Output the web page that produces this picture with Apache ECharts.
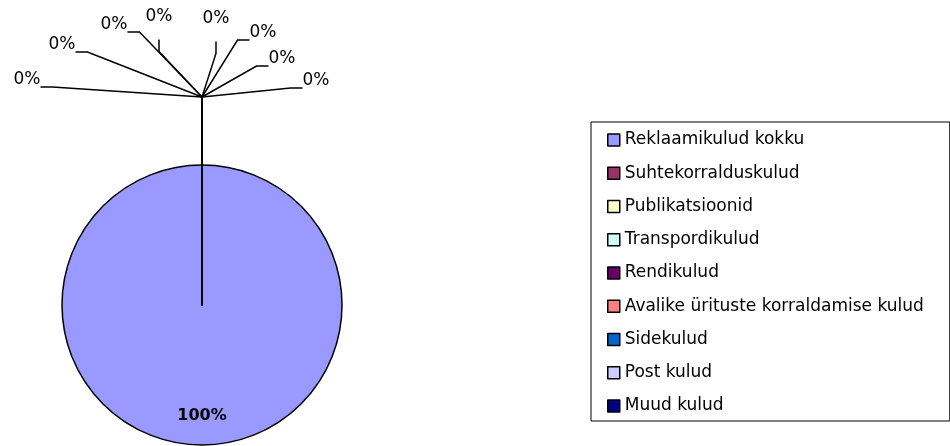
<!DOCTYPE html>
<html>
<head>
<meta charset="utf-8">
<script src="https://cdn.jsdelivr.net/npm/echarts@6/dist/echarts.min.js"></script>
<style>
  html, body { margin: 0; padding: 0; background: #fff; }
  #chart { width: 950px; height: 446px; }
</style>
</head>
<body>
<div id="chart"></div>
<script>
// kulude jaotus
var categories = [
  'Reklaamikulud kokku',
  'Suhtekorralduskulud',
  'Publikatsioonid',
  'Transpordikulud',
  'Rendikulud',
  'Avalike ürituste korraldamise kulud',
  'Sidekulud',
  'Post kulud',
  'Muud kulud'
];
var values = [100, 0, 0, 0, 0, 0, 0, 0, 0];
var colors = ['#9999FF', '#993366', '#FFFFCC', '#CCFFFF', '#660066', '#FF8080', '#0066CC', '#CCCCFF', '#000080'];

// 0% siltide asukohad (kasitsi paigutatud nagu Excelis)
var labelSpots = [
  [316, 88], [282, 66], [263, 40], [216, 26],
  [159, 24], [114, 32], [62, 52], [27, 87]
];

var chart = echarts.init(document.getElementById('chart'), null, { renderer: 'canvas' });

var bigData = [];
var zeroData = [];
for (var i = 0; i < categories.length; i++) {
  var item = { name: categories[i], value: values[i], itemStyle: { color: colors[i] } };
  if (values[i] > 0) bigData.push(item); else zeroData.push(item);
}

var option = {
  animation: false,
  backgroundColor: '#fff',
  legend: {
    data: categories,
    orient: 'vertical',
    left: 591,
    top: 122,
    padding: [8, 4, 5, 16],
    itemGap: 13.25,
    itemWidth: 12,
    itemHeight: 12,
    icon: 'rect',
    borderColor: '#000',
    borderWidth: 1,
    borderRadius: 0,
    selectedMode: false,
    itemStyle: { borderColor: '#000', borderWidth: 1.5 },
    textStyle: {
      fontFamily: 'DejaVu Sans',
      fontSize: 17,
      lineHeight: 20,
      color: '#000',
      width: 321
    }
  },
  series: [
    {
      type: 'pie',
      center: [202, 305],
      radius: 140,
      startAngle: 90,
      silent: true,
      data: bigData,
      itemStyle: { borderColor: '#000', borderWidth: 1.5 },
      label: {
        show: true,
        position: 'inside',
        formatter: '{d}%',
        fontFamily: 'DejaVu Sans',
        fontWeight: 'bold',
        fontSize: 16,
        color: '#000'
      },
      labelLayout: { dy: 38 }
    },
    {
      type: 'pie',
      center: [202, 305],
      radius: 208,
      startAngle: 90,
      stillShowZeroSum: false,
      avoidLabelOverlap: false,
      silent: true,
      z: 3,
      data: zeroData,
      itemStyle: { borderColor: '#000', borderWidth: 1.5 },
      label: {
        show: true,
        position: 'outside',
        // tühi teine rida, et joon algaks teksti alumisest servast
        formatter: '{d}%\n ',
        fontFamily: 'DejaVu Sans',
        fontSize: 17,
        lineHeight: 14,
        color: '#000'
      },
      labelLine: {
        show: true,
        length: 10,
        length2: 12,
        lineStyle: { color: '#000', width: 1.5 }
      },
      labelLayout: function (params) {
        var p = labelSpots[params.dataIndex];
        return { x: p[0], y: p[1], align: 'center', verticalAlign: 'middle' };
      }
    }
  ]
};

chart.setOption(option);
</script>
</body>
</html>
